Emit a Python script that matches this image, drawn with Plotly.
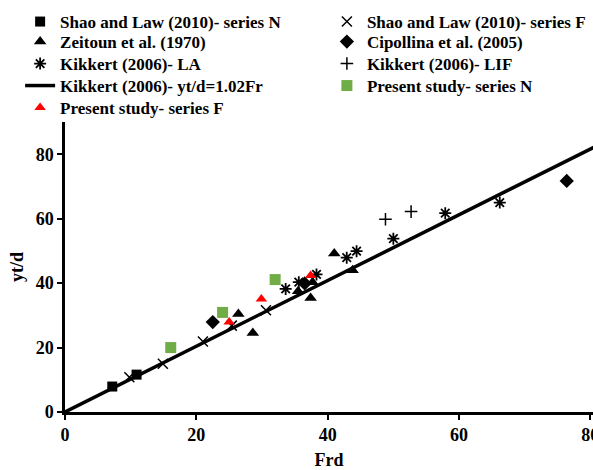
import plotly.graph_objects as go

# Data
shao_n_x = [7.2, 10.9]
shao_n_y = [7.9, 11.6]
shao_f_x = [9.8, 14.9, 21.0, 25.4, 30.6]
shao_f_y = [10.8, 15.0, 21.9, 26.8, 31.6]
zeit_x = [26.4, 28.6, 35.5, 37.4, 37.7, 41.0, 43.8]
zeit_y = [30.4, 24.5, 37.5, 35.4, 40.3, 49.2, 44.0]
cip_x = [22.5, 36.5, 76.4]
cip_y = [27.9, 39.9, 71.7]
kla_x = [33.6, 35.6, 38.3, 42.9, 44.4, 50.0, 57.9, 66.2]
kla_y = [38.2, 40.3, 42.7, 47.9, 49.9, 53.8, 61.7, 65.0]
klif_x = [48.8, 52.7]
klif_y = [59.8, 62.2]
pn_x = [16.1, 24.0, 32.0]
pn_y = [20.0, 30.9, 41.1]
pf_x = [25.0, 29.9, 37.4]
pf_y = [27.9, 35.1, 42.4]
fit_slope = 1.02
fit_x = [0, 82]
fit_y = [fit_slope * v for v in fit_x]
tick_vals = [0, 20, 40, 60, 80]
tick_text = ["<b>%d</b>" % v for v in tick_vals]

FONT = "Liberation Serif"

# legend layout: (column, row) for each entry
legend_slots = {}
row_pix = [22, 42, 64, 86, 108]
col_x = [-0.085, 0.496]

fig = go.Figure()
_count = [0]

def legend_for(col, row):
    _count[0] += 1
    key = "legend" if _count[0] == 1 else "legend%d" % _count[0]
    legend_slots[key] = (col, row)
    return key

def add_pts(x, y, name, symbol, color, size, lw, col, row):
    fig.add_trace(go.Scatter(
        x=x, y=y, mode="markers", name="<b>%s</b>" % name,
        legend=legend_for(col, row),
        marker=dict(symbol=symbol, color=color, size=size,
                    line=dict(color=color, width=lw)),
        cliponaxis=False))

add_pts(shao_n_x, shao_n_y, "Shao and Law (2010)- series N", "square", "black", 10, 0, 0, 0)
add_pts(shao_f_x, shao_f_y, "Shao and Law (2010)- series F", "x-thin-open", "black", 10, 1.5, 1, 0)
add_pts(zeit_x, zeit_y, "Zeitoun et al. (1970)", "triangle-up", "black", 11, 0, 0, 1)
add_pts(cip_x, cip_y, "Cipollina et al. (2005)", "diamond", "black", 11, 0, 1, 1)
add_pts(kla_x, kla_y, "Kikkert (2006)- LA", "asterisk-open", "black", 10, 1.8, 0, 2)
add_pts(klif_x, klif_y, "Kikkert (2006)- LIF", "cross-thin-open", "black", 9, 1.5, 1, 2)
fig.add_trace(go.Scatter(
    x=fit_x, y=fit_y, mode="lines", name="<b>Kikkert (2006)- yt/d=1.02Fr</b>",
    legend=legend_for(0, 3), line=dict(color="black", width=3.5)))
add_pts(pn_x, pn_y, "Present study- series N", "square", "#70AD47", 11, 0, 1, 3)
add_pts(pf_x, pf_y, "Present study- series F", "triangle-up", "#FF0000", 10, 0, 0, 4)

axis_common = dict(
    showgrid=False, zeroline=False, showline=True, linecolor="black",
    linewidth=2.5, ticks="outside", tickcolor="black", ticklen=5, tickwidth=2,
    tickvals=tick_vals, ticktext=tick_text, ticklabeloverflow="allow",
    tickfont=dict(family=FONT, size=18, color="black"), automargin=False,
)

PLOT_TOP, PLOT_BOTTOM = 122, 412
legends = {}
for key, (col, row) in legend_slots.items():
    legends[key] = dict(
        orientation="v", x=col_x[col], xanchor="left",
        y=(PLOT_BOTTOM - row_pix[row]) / (PLOT_BOTTOM - PLOT_TOP), yanchor="middle",
        font=dict(family=FONT, size=17, color="black"),
        bgcolor="rgba(0,0,0,0)",
    )

fig.update_layout(
    width=593, height=470,
    margin=dict(l=65, r=0, t=PLOT_TOP, b=470 - PLOT_BOTTOM),
    plot_bgcolor="white", paper_bgcolor="white",
    font=dict(family=FONT, color="black"),
    xaxis=dict(range=[0, 80.4], **axis_common,
               title=dict(text="<b>Frd</b>", font=dict(family=FONT, size=18), standoff=11)),
    yaxis=dict(range=[0, 90], **axis_common,
               title=dict(text="<b>yt/d</b>", font=dict(family=FONT, size=18), standoff=8)),
    showlegend=True,
    **legends,
)

fig.write_html("out.html")
